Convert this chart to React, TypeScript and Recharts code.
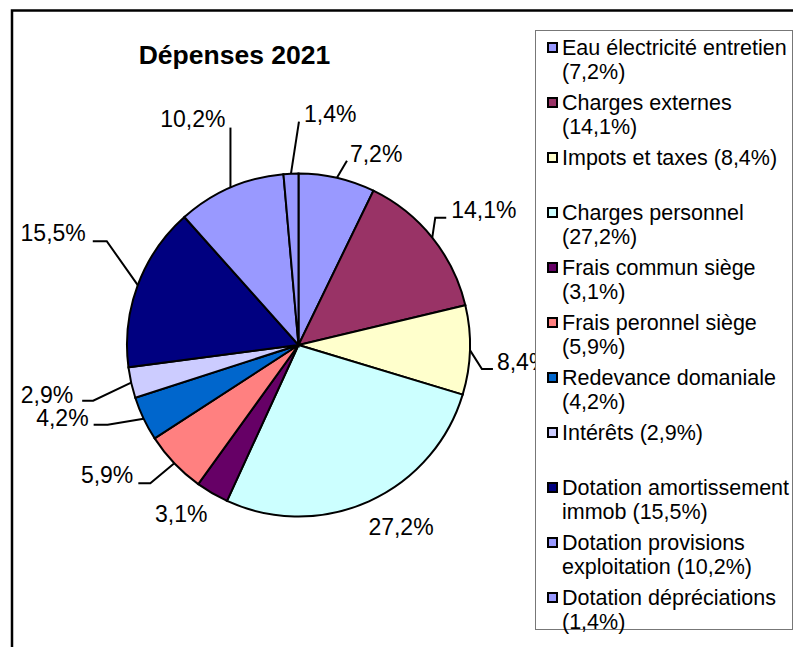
import React from 'react';
import { PieChart, Pie, Cell, Legend } from 'recharts';

const categories = [
  'Eau électricité entretien',
  'Charges externes',
  'Impots et taxes',
  'Charges personnel',
  'Frais commun siège',
  'Frais peronnel siège',
  'Redevance domaniale',
  'Intérêts',
  'Dotation amortissement immob',
  'Dotation provisions exploitation',
  'Dotation dépréciations',
];
const values = [7.2, 14.1, 8.4, 27.2, 3.1, 5.9, 4.2, 2.9, 15.5, 10.2, 1.4];
const colors = [
  '#9999FF', '#993366', '#FFFFCC', '#CCFFFF', '#660066', '#FF8080',
  '#0066CC', '#CCCCFF', '#000080', '#9999FF', '#9999FF',
];
const title = 'Dépenses 2021';

const data = categories.map((name, i) => ({ name, value: values[i] }));
const fmt = (v: number) => v.toFixed(1).replace('.', ',') + '%';

// leader-line layout relative to slice edge midpoint (styling only)
const LABEL_LAYOUT: { pts: number[][]; tx: number; ty: number; anchor: string }[] = [
  { pts: [[10, -17]], tx: 13, ty: -16, anchor: 'start' },
  { pts: [[3, -20], [14, -20]], tx: 19, ty: -20, anchor: 'start' },
  { pts: [[12, 19], [23, 19]], tx: 27, ty: 20, anchor: 'start' },
  { pts: [], tx: 32, ty: 33.5, anchor: 'middle' },
  { pts: [], tx: -31, ty: 29, anchor: 'middle' },
  { pts: [[-24, 20], [-36, 20]], tx: -41, ty: 20, anchor: 'end' },
  { pts: [[-36, 6], [-50, 6]], tx: -55, ty: 7, anchor: 'end' },
  { pts: [[-38, 18], [-49, 18]], tx: -58, ty: 20, anchor: 'end' },
  { pts: [[-31, -44], [-45, -44]], tx: -52, ty: -44, anchor: 'end' },
  { pts: [[0, -60]], tx: -5, ty: -61, anchor: 'end' },
  { pts: [[8, -52]], tx: 13, ty: -52, anchor: 'start' },
];

const RAD = Math.PI / 180;
const FONT = '"Liberation Sans", Arial, sans-serif';

function renderLabel(p: any) {
  const { cx, cy, midAngle, outerRadius, index, value } = p;
  const ex = cx + outerRadius * Math.cos(-midAngle * RAD);
  const ey = cy + outerRadius * Math.sin(-midAngle * RAD);
  const lay = LABEL_LAYOUT[index];
  const pts = [[ex, ey], ...lay.pts.map(([dx, dy]) => [ex + dx, ey + dy])];
  return (
    <g key={`lbl-${index}`}>
      {lay.pts.length > 0 && (
        <polyline
          points={pts.map((q) => q.join(',')).join(' ')}
          fill="none"
          stroke="#000"
          strokeWidth={2}
        />
      )}
      <text
        x={ex + lay.tx}
        y={ey + lay.ty}
        textAnchor={lay.anchor as any}
        fontFamily={FONT}
        fontSize={23}
        fill="#000"
      >
        {fmt(value)}
      </text>
    </g>
  );
}

function renderLegend() {
  return (
    <div
      style={{
        position: 'relative',
        width: 258,
        height: 600,
        boxSizing: 'border-box',
        border: '1px solid #777',
        background: '#fff',
        fontFamily: FONT,
        fontSize: 21.5,
        color: '#000',
      }}
    >
      {categories.map((name, i) => (
        <React.Fragment key={name}>
          <div
            style={{
              position: 'absolute',
              left: 11,
              top: 11 + i * 55,
              width: 11,
              height: 11,
              boxSizing: 'border-box',
              border: '2px solid #000',
              background: colors[i],
            }}
          />
          <div
            style={{
              position: 'absolute',
              left: 26,
              top: 4.75 + i * 55,
              width: 232,
              lineHeight: '24.5px',
              whiteSpace: 'normal',
            }}
          >
            {`${name} (${fmt(values[i])})`}
          </div>
        </React.Fragment>
      ))}
    </div>
  );
}

export default function App() {
  return (
    <div style={{ position: 'relative', width: 793, height: 647, overflow: 'hidden', background: '#fff' }}>
      <style>{'body{margin:0;overflow:hidden}'}</style>
      <svg width={793} height={647} style={{ position: 'absolute', left: 0, top: 0 }}>
        <rect x={12} y={10.5} width={900} height={900} fill="none" stroke="#000" strokeWidth={2.5} />
        <text
          x={234.5}
          y={64}
          textAnchor="middle"
          fontFamily={FONT}
          fontWeight="bold"
          fontSize={26.5}
          fill="#000"
        >
          {title}
        </text>
      </svg>
      <div style={{ position: 'absolute', left: 0, top: 0 }}>
        <PieChart width={793} height={647} margin={{ top: 0, right: 0, bottom: 0, left: 0 }}>
          <Pie
            data={data}
            dataKey="value"
            nameKey="name"
            cx={298.5}
            cy={345}
            outerRadius={171.5}
            startAngle={90}
            endAngle={-270}
            stroke="#000"
            strokeWidth={2}
            label={renderLabel}
            labelLine={false}
            isAnimationActive={false}
          >
            {data.map((d, i) => (
              <Cell key={d.name} fill={colors[i]} />
            ))}
          </Pie>
          <Legend
            content={renderLegend}
            layout="vertical"
            align="right"
            verticalAlign="top"
            wrapperStyle={{ position: 'absolute', left: 535, top: 30, right: 'auto', bottom: 'auto', width: 258, height: 600 }}
          />
        </PieChart>
      </div>
    </div>
  );
}
